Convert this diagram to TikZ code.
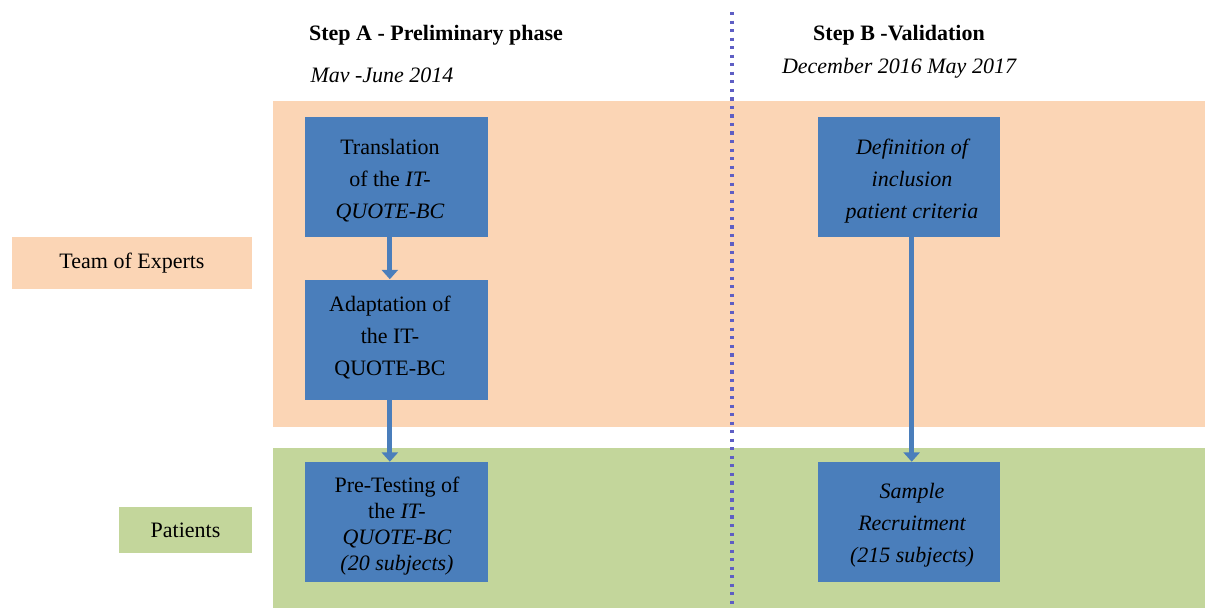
\documentclass[tikz,border=0pt]{standalone}
\usepackage{fontspec}
\setmainfont{Liberation Serif}
\usetikzlibrary{arrows.meta}

\definecolor{expertorange}{HTML}{FBD5B5}
\definecolor{patientgreen}{HTML}{C3D69B}
\definecolor{stepblue}{HTML}{4A7EBB}
\definecolor{dotblue}{HTML}{5E5EC4}

\tikzset{
  stepbox/.style={fill=stepblue, minimum width=137pt, minimum height=90pt, align=center, inner sep=0pt,
    font=\fontsize{16.5}{24}\selectfont},
  flow/.style={draw=stepblue, line width=3.8pt, -{Triangle[width=12pt,length=7pt]}},
  rowlabel/.style={minimum height=39pt, align=center, font=\fontsize{16.5}{18}\selectfont},
}

\begin{document}
\begin{tikzpicture}[x=0.75pt, y=-0.75pt]

  \useasboundingbox (0,0) rectangle (1205,608);

  % Background bands
  \fill[expertorange] (273,101) rectangle (1205,427);
  \fill[patientgreen] (273,448) rectangle (1205,608);

  % Row labels
  \node[rowlabel, fill=expertorange, minimum width=180pt] (experts) at (132,263) {Team of Experts};
  \node[rowlabel, fill=patientgreen, minimum width=100pt, minimum height=34.5pt] (patients) at (185.5,530) {Patients};

  % Separator between steps
  \coordinate (septop) at (732,12);
  \coordinate (sepbot) at (732,608);
  \draw[dotblue, line width=2.4pt, dash pattern=on 2.4pt off 4pt] (septop) -- (sepbot);

  % Headers
  \node[font=\fontsize{16.5}{18}\selectfont\bfseries] (stepA) at (436,35) {Step A - Preliminary phase};
  \node[font=\fontsize{16.5}{18}\selectfont\itshape] (dateA) at (382,75) {Mav -June 2014};
  \node[font=\fontsize{16.5}{18}\selectfont\bfseries] (stepB) at (899,35) {Step B -Validation};
  \node[font=\fontsize{16.5}{18}\selectfont\itshape] (dateB) at (899,68) {December 2016 May 2017};

  % Step A boxes
  \node[stepbox] (translation) at (396.5,177) {};
  \node[align=center, font=\fontsize{16.5}{24}\selectfont] (translationtext) at (390,181) {Translation\\of the \textit{IT-}\\\textit{QUOTE-BC}};
  \node[stepbox] (adaptation) at (396.5,339.5) {};
  \node[align=center, font=\fontsize{16.5}{24}\selectfont] (adaptationtext) at (390,338) {Adaptation of\\the IT-\\QUOTE-BC};
  \node[stepbox] (pretest) at (396.5,522) {};
  \node[align=center, font=\fontsize{16.5}{19.5}\selectfont] (pretesttext) at (397,526) {Pre-Testing of\\the \textit{IT-}\\\textit{QUOTE-BC}\\\textit{(20 subjects)}};

  % Step B boxes
  \node[stepbox] (criteria) at (909,177) {};
  \node[align=center, font=\fontsize{16.5}{24}\selectfont\itshape] (criteriatext) at (912,181) {Definition of\\inclusion\\patient criteria};
  \node[stepbox] (sample) at (909,522) {};
  \node[align=center, font=\fontsize{16.5}{24}\selectfont\itshape] (sampletext) at (912,525) {Sample\\Recruitment\\(215 subjects)};

  % Connect the boxes
  \draw[flow] ([xshift=-5pt]translation.south) -- ([xshift=-5pt]adaptation.north);
  \draw[flow] ([xshift=-5pt]adaptation.south) -- ([xshift=-5pt]pretest.north);
  \draw[flow] ([xshift=2pt]criteria.south) -- ([xshift=2pt]sample.north);

\end{tikzpicture}
\end{document}
